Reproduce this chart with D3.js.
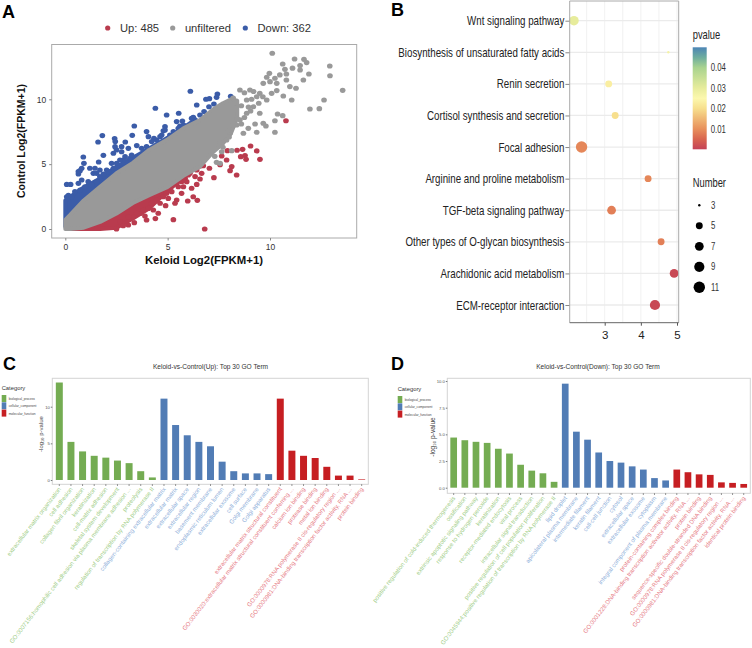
<!DOCTYPE html>
<html><head><meta charset="utf-8">
<script src="https://cdn.jsdelivr.net/npm/d3@7"></script>
<style>html,body{margin:0;background:#fff}svg{display:block}text{font-family:"Liberation Sans",sans-serif}</style>
</head><body><svg id="c" width="752" height="648"></svg>
<script>
// ---------- Panel A data ----------
const upPoints=[[10.78,8.35],[9.05,6.4],[9.35,6.02],[8.66,6.14],[8.39,6.07],[7.92,6.04],[7.64,5.63],[7.88,5.32],[8.57,5.58],[8.78,5.66],[8.83,5.37],[9.51,5.37],[8.13,4.81],[8.05,4.5],[8.37,4.16],[7.56,4.96],[7.04,4.68],[7.26,3.96],[6.74,4.88],[6.58,4.86],[6.42,4.55],[6.17,4.63],[6.66,4.29],[6.58,3.86],[6.34,4.04],[6.09,4.29],[5.68,4.09],[5.28,3.78],[5.44,3.52],[5.93,3.65],[6.42,3.44],[5.77,3.26],[6.17,3.14],[5.68,2.75],[6.25,2.49],[6.45,2.21],[5.98,2.16],[5.44,2.24],[5.36,1.98],[4.9,1.8],[5.03,2.36],[4.54,1.21],[4.4,.8],[5.28,.72],[6.81,0],[3.97,.69],[3.89,1],[3.37,.49],[3.08,.31],[2.83,.26],[2.5,0],[4.3,1.47],[4.63,1.98],[5.11,3],[3.32,.95],[3.65,1.2],[2.67,.57],[3.08,.95],[3.49,1.21],[3.81,1.47],[4.06,1.59],[4.22,1.98],[4.46,2.24],[4.79,2.49],[4.95,2.75],[5.2,2.88],[5.52,3.26],[5.68,3.65],[5.85,3.91],[6.01,4.16]];
const downPoints=[[6.11,10.62],[7.43,10.41],[8.08,10.23],[7.39,10.15],[7.04,10.05],[6.87,10],[6.42,9.56],[7.26,9.64],[7.02,9.43],[4.4,9.31],[5.54,8.92],[4.95,8.79],[6.78,9.05],[6.58,8.79],[6.25,8.61],[6.34,8.41],[5.44,8.28],[5.72,8.33],[5.86,7.94],[3.37,7.94],[4.87,7.89],[5.6,7.94],[5.68,7.63],[4.79,7.58],[3.97,7.51],[1.81,7.2],[3.27,7.22],[2.41,6.97],[1.6,6.71],[2.44,6.74],[2.93,6.71],[4.06,7.12],[.88,5.55],[1.86,5.68],[.91,5.06],[1.63,5.17],[1.2,4.68],[.72,4.5],[.64,4.24],[.07,3.44],[.26,3.44],[.64,3.52],[.8,3.78],[2.35,5.84],[2.5,6.1],[2.75,5.96],[3.08,6.22],[3.49,6.43],[3.73,6.22],[4.46,6.86],[4.63,7.12],[5.11,7.25],[1.69,4.55],[1.37,4.29],[2.02,4.55],[2.26,5.06],[2.83,5.32],[3.16,5.45],[.07,2.49],[.15,2.6],[.31,2.49],[.47,2.88],[.72,3.01],[.96,3.26],[1.12,3.65],[1.29,3.39],[1.53,3.65],[1.69,4.04],[1.86,4.24],[2.1,4.42],[2.35,4.68],[2.51,5.06],[2.67,5.32],[2.92,5.58],[3.24,5.71],[3.4,5.06],[3.65,5.58],[3.97,6.35],[4.22,6.74],[4.33,6.99],[4.71,7.25],[4.87,7.63],[5.28,7.51],[5.52,7.76],[5.77,8.02],[6.17,8.53],[.64,4.42],[.8,4.68],[1.53,4.29],[1.45,4.68],[2.43,6.35],[2.75,6.35]];
const greyPoints=[[10.11,13.55],[11.2,13.11],[11.66,13.08],[11.79,12.83],[10.62,12.72],[12.92,12.57],[11.47,12.6],[11.1,12.4],[11.47,12.26],[10.73,12.31],[9.97,12],[11.9,11.95],[12.93,11.82],[10.8,11.95],[10.48,11.88],[10.24,11.62],[9.84,11.7],[11.63,11.49],[9.67,11.23],[10,11.36],[10.33,11.23],[10.8,11.49],[10.97,10.98],[11.27,10.85],[13.55,10.69],[10.08,10.46],[10.33,10.67],[10.65,10.26],[11.06,9.95],[12.64,9.95],[11.95,9.25],[12.41,9.28],[10.37,8.87],[10.62,8.74],[10.24,8.35],[9.8,7.94],[10.24,7.46],[9.67,8.15],[9.27,8.1],[8.94,7.76],[8.7,7.38],[9.35,7.46],[8.53,10.72],[9.02,10.72],[9.5,10.46],[9.84,9.95],[9.35,10.2],[8.86,9.95],[9.19,9.43],[9.5,8.92],[8.53,8.41],[8.86,8.92],[8.05,7.38],[8.37,8.02],[7.56,6.6],[7.88,6.86],[8.13,6.04],[7.64,5.96],[7.39,5.14],[7.56,5.06],[8.2,10.1],[8.75,10.5],[9.2,10.6],[9.65,10.2],[9.1,10],[9.45,9.7],[8.95,9.4],[8.6,9.5],[8.3,9.3],[9.05,9.1],[8.75,8.6],[8.4,8.5],[8.6,8.1],[8.2,8],[7.95,7.6],[8,7.1],[7.7,6.3],[7.3,5.6]];
// dense cores, as envelopes: x, lower y, upper y
const greyBandX=[0,.25,.9,1.7,2.5,3.3,4.1,4.95,5.77,6.58,7.2,7.7,8.1,8.4];
const greyBandLow=[0,0,.1,.55,1.2,2,2.6,3.2,4.1,4.8,5.9,6.6,7.4,8.6];
const greyBandHigh=[.7,1.1,2.2,3.26,4.3,5.1,6.1,6.86,7.76,8.4,9.2,9.7,10,9.9];
const downBandX=[0,.25,.9,1.7,2.5,3.3,4.1,4.95,5.77,6.3];
const downBandLow=[.2,.9,2,3.1,4.1,4.9,5.9,6.7,7.6,8.2];
const downBandHigh=[2.2,2.5,3.2,3.9,4.8,5.5,6.2,7,7.8,8.4];
const upBandX=[.2,.9,1.7,2.5,3.3,4.1,4.7,5.2,5.7];
const upBandLow=[0,0,0,.1,.8,1.6,2.5,3.2,3.9];
const upBandHigh=[.05,.2,.65,1.3,2.1,2.7,3.1,3.7,4.2];
const volcanoXTicks=[0,5,10], volcanoYTicks=[0,5,10];
const volcanoLegend=["Up: 485","unfiltered","Down: 362"];

// ---------- Panel B data ----------
const pathways=["Wnt signaling pathway","Biosynthesis of unsaturated fatty acids","Renin secretion","Cortisol synthesis and secretion","Focal adhesion","Arginine and proline metabolism","TGF-beta signaling pathway","Other types of O-glycan biosynthesis","Arachidonic acid metabolism","ECM-receptor interaction"];
const enrichment=[2.15,4.76,3.11,3.29,2.36,4.2,3.19,4.56,4.92,4.39];
const pvalues=[.03,.027,.023,.02,.009,.009,.008,.008,.001,.001];
const numbers=[8,3,5,5,11,5,7,5,7,9];
const numberLegend=[3,5,7,9,11];
const pvalueTicks=[.01,.02,.03,.04];
const pvalueStops=[0,.005,.01,.02,.025,.03,.04,.045,.05];
const pvalueColors=["#c44257","#d9654f","#e8905c","#f7df8d","#fcf8ae","#e7ec9c","#a9d38f","#6fae9e","#4c85b5"];

// ---------- Panels C, D data ----------
const upTerms=["extracellular matrix organization","cell adhesion","collagen fibril organization","keratinization","cell-matrix adhesion","skeletal system development","GO:0007156:homophilic cell adhesion via plasma membrane adhesion ...","proteolysis","regulation of transcription by RNA polymerase II","collagen-containing extracellular matrix","extracellular matrix","extracellular space","extracellular region","basement membrane","endoplasmic reticulum lumen","extracellular exosome","cell surface","Golgi membrane","Golgi apparatus","extracellular matrix structural constituent","GO:0030020:extracellular matrix structural constituent conferring ...","calcium ion binding","protease binding","metal ion binding","GO:0000978:RNA polymerase II cis-regulatory region ...","GO:0000981:DNA-binding transcription factor activity, RNA ...","protein binding"];
const upValues=[13.3,5.2,3.9,3.3,3.05,2.65,2.3,1.2,.35,11.1,7.5,6.1,5.2,4.6,2.5,1.2,.9,.9,.8,11.1,4,3.3,3,1.8,.6,.6,.08];
const upCats=[9,10,8];
const downTerms=["positive regulation of cold-induced thermogenesis","ossification","extrinsic apoptotic signaling pathway","response to hydrogen peroxide","keratinization","receptor-mediated endocytosis","viral process","intracellular signal transduction","positive regulation of cell population proliferation","GO:0045944:positive regulation of transcription by RNA polymerase II","lipid droplet","apicolateral plasma membrane","intermediate filament","keratin filament","cell-cell junction","cytosol","extracellular space","extracellular exosome","cytoplasm","integral component of plasma membrane","protein-containing complex binding","GO:0001228:DNA-binding transcription activator activity, RNA ...","protein binding","sequence-specific double-stranded DNA binding","GO:0000978:RNA polymerase II cis-regulatory region ...","GO:0000981:DNA-binding transcription factor activity, RNA ...","identical protein binding"];
const downValues=[4.7,4.45,4.3,4.2,3.65,3.2,2.15,1.6,1.35,.55,9.75,5.25,4.5,3.3,2.5,2.35,2,1.7,.9,.68,1.7,1.45,1.25,1.2,.5,.45,.35];
const downCats=[10,10,7];
const categories=["biological_process","cellular_component","molecular_function"];
const barColors=["#74ac52","#517cb5","#c61e22"];
const labelColors=["#a2ce88","#8fb0da","#e67a84"];

const svg=d3.select("#c");
const panelLetter=(t,x,y)=>svg.append("text").attr("x",x).attr("y",y).attr("font-size",18).attr("font-weight","bold").attr("fill","#000").text(t);
panelLetter("A",2,18);panelLetter("B",391,16);panelLetter("C",3,370);panelLetter("D",391,370);

// ========== A ==========
(function(){
 const x=d3.scaleLinear().domain([0,10]).range([65.3,270]);
 const y=d3.scaleLinear().domain([0,10]).range([229,99.3]);
 const g=svg.append("g");
 const colors={up:"#b93b4e",grey:"#999999",down:"#3b5ca8"};
 const band=(X,L,H,c)=>{
  const a=d3.area().x(d=>x(X[d])).y0(d=>y(L[d])).y1(d=>y(H[d])).curve(d3.curveLinear);
  g.append("path").attr("d",a(d3.range(X.length))).attr("fill",c).attr("stroke",c).attr("stroke-width",4).attr("stroke-linejoin","round");
 };
 const dots=(P,c)=>g.selectAll(null).data(P).join("ellipse").attr("cx",d=>x(d[0])).attr("cy",d=>y(d[1])).attr("rx",2.85).attr("ry",2.55).attr("fill",c);
 band(downBandX,downBandLow,downBandHigh,colors.down);dots(downPoints,colors.down);
 band(upBandX,upBandLow,upBandHigh,colors.up);dots(upPoints,colors.up);
 band(greyBandX,greyBandLow,greyBandHigh,colors.grey);dots(greyPoints,colors.grey);
 svg.append("rect").attr("x",51.7).attr("y",44.5).attr("width",305).attr("height",193.5).attr("fill","none").attr("stroke","#aaa").attr("stroke-width",1);
 const ax=g=>{g.select(".domain").remove();g.selectAll("line").attr("stroke","#888");g.selectAll("text").attr("fill","#333").attr("font-size",8.5);};
 svg.append("g").attr("transform","translate(0,238)").call(d3.axisBottom(x).tickValues(volcanoXTicks).tickSize(2.5).tickPadding(3)).call(ax);
 svg.append("g").attr("transform","translate(51.7,0)").call(d3.axisLeft(y).tickValues(volcanoYTicks).tickSize(2.5).tickPadding(3)).call(ax);
 svg.append("text").attr("x",204).attr("y",264).attr("text-anchor","middle").attr("font-size",11.4).attr("font-weight","bold").attr("fill","#111").text("Keloid Log2(FPKM+1)");
 svg.append("text").attr("transform","translate(25,141) rotate(-90)").attr("text-anchor","middle").attr("font-size",10.5).attr("font-weight","bold").attr("fill","#111").text("Control Log2(FPKM+1)");
 const lc=[colors.up,colors.grey,colors.down],lx=[107.7,172.7,245.3];
 volcanoLegend.forEach((t,i)=>{
  svg.append("circle").attr("cx",lx[i]).attr("cy",28).attr("r",2.6).attr("fill",lc[i]);
  svg.append("text").attr("x",lx[i]+12.2).attr("y",32).attr("font-size",11.2).attr("fill","#333").text(t);
 });
})();

// ========== B ==========
(function(){
 const sx=.78; // the reference's text is horizontally squeezed
 const squeeze=(sel)=>sel.each(function(){const t=d3.select(this),px=+t.attr("x")||0,py=+t.attr("y")||0;t.attr("x",0).attr("y",0).attr("transform",`translate(${px},${py}) scale(${sx},1)`);});
 const label=(txt,px,py,fs,fill)=>svg.append("text").attr("x",px).attr("y",py).attr("font-size",fs).attr("fill",fill).text(txt).call(squeeze);
 const x=d3.scaleLinear().domain([3,5]).range([604.7,677]);
 const y=d3.scalePoint().domain(pathways).range([20.7,305]);
 const L=569.7,R=678.7,T=1,B=322.7;
 const size=d3.scalePow().exponent(.5).domain([0,8]).range([1.2,5.7]);
 const color=d3.scaleLinear().domain(pvalueStops).range(pvalueColors);
 const g=svg.append("g");
 [2.5,3,3.5,4,4.5,5].forEach(v=>g.append("line").attr("x1",x(v)).attr("x2",x(v)).attr("y1",T).attr("y2",B).attr("stroke","#eeeeee").attr("stroke-width",.8));
 pathways.forEach(p=>g.append("line").attr("x1",L).attr("x2",R).attr("y1",y(p)).attr("y2",y(p)).attr("stroke","#ebebeb").attr("stroke-width",1.3));
 g.selectAll(null).data(pathways).join("circle").attr("cx",(d,i)=>x(enrichment[i])).attr("cy",d=>y(d)).attr("r",(d,i)=>size(numbers[i]-3)).attr("fill",(d,i)=>color(pvalues[i]));
 svg.append("path").attr("d",`M${L},${B}V${T}H${R}V${B}`).attr("fill","none").attr("stroke","#aaa").attr("stroke-width",1);
 svg.append("g").attr("transform",`translate(${L-.3},0)`).call(d3.axisLeft(y).tickSize(4).tickPadding(1)).call(g=>{g.select(".domain").remove();g.selectAll("line").attr("stroke","#888");g.selectAll("text").attr("font-size",12.5).attr("fill","#222").call(squeeze);});
 svg.append("g").attr("transform",`translate(0,${B})`).call(d3.axisBottom(x).tickValues([3,4,5]).tickFormat(d3.format("d")).tickSize(3).tickPadding(5)).call(g=>{g.select(".domain").attr("d",`M${L},0H${R}`).attr("stroke","#666");g.selectAll("line").attr("stroke","#555");g.selectAll("text").attr("font-size",11.5).attr("fill","#222");});
 // colour bar
 const cb=d3.scaleLinear().domain([0,.05]).range([149.3,47.3]);
 const grad=svg.append("defs").append("linearGradient").attr("id","pv").attr("x1",0).attr("x2",0).attr("y1",1).attr("y2",0);
 pvalueStops.forEach((s,i)=>grad.append("stop").attr("offset",s/.05).attr("stop-color",pvalueColors[i]));
 svg.append("rect").attr("x",692.7).attr("y",47.3).attr("width",14).attr("height",102).attr("fill","url(#pv)");
 label("pvalue",692.7,39,12,"#222");
 svg.append("g").attr("transform","translate(706.7,0)").call(d3.axisRight(cb).tickValues(pvalueTicks).tickFormat(d3.format(".2f")).tickSize(0).tickPadding(4)).call(g=>{g.select(".domain").remove();g.selectAll("text").attr("font-size",10).attr("fill","#333").call(squeeze);});
 label("Number",692.7,187,12,"#222");
 const ly=d3.scalePoint().domain(numberLegend).range([205.3,287.3]);
 numberLegend.forEach(n=>{
  svg.append("circle").attr("cx",699.3).attr("cy",ly(n)).attr("r",size(n-3)).attr("fill","#000");
  label(n,711,ly(n)+3.5,10,"#333");
 });
})();

// ========== C, D ==========
function barPanel(o){
 const font='"DejaVu Sans",sans-serif';
 const cond='"DejaVu Sans Condensed","DejaVu Sans",sans-serif';
 const catOf=i=>i<o.cats[0]?0:(i<o.cats[0]+o.cats[1]?1:2);
 const x=d3.scaleBand().domain(o.terms).range(o.xr).paddingInner(.4).paddingOuter(.2);
 const y=d3.scaleLinear().domain(o.yd).range(o.yr);
 svg.selectAll(null).data(o.terms).join("rect").attr("x",d=>x(d)).attr("width",x.bandwidth())
  .attr("y",(d,i)=>y(o.values[i])).attr("height",(d,i)=>y(0)-y(o.values[i])).attr("fill",(d,i)=>barColors[catOf(i)]);
 svg.append("rect").attr("x",o.frame[0]).attr("y",o.frame[1]).attr("width",o.frame[2]-o.frame[0]).attr("height",o.frame[3]-o.frame[1]).attr("fill","none").attr("stroke","#d4d4d4").attr("stroke-width",1);
 svg.append("g").attr("transform",`translate(${o.frame[0]},0)`).call(d3.axisLeft(y).tickValues(o.yt).tickFormat(o.yf).tickSize(1.5).tickPadding(1)).call(g=>{g.select(".domain").remove();g.selectAll("line").attr("stroke","#777");g.selectAll("text").attr("font-family",font).attr("font-size",4.2).attr("fill","#555");});
 svg.append("g").attr("transform",`translate(0,${o.frame[3]})`).call(d3.axisBottom(x).tickSize(1.5).tickPadding(0)).call(g=>{g.select(".domain").remove();g.selectAll("line").attr("stroke","#777");
  g.selectAll("text").attr("font-family",font).attr("font-size",6).attr("text-anchor","end").attr("dy",0).attr("y",0).attr("transform","translate(2,5) rotate(-52.5)").attr("fill",(d,i)=>labelColors[catOf(i)]);});
 svg.append("text").attr("x",o.title[0]).attr("y",o.title[1]).attr("text-anchor","middle").attr("font-family",cond).attr("font-size",6.6).attr("fill","#333").text(o.titleText);
 svg.append("text").attr("transform",`translate(${o.ylab[0]},${o.ylab[1]}) rotate(-90)`).attr("text-anchor","middle").attr("font-family",font).attr("font-size",o.ylab[2]).attr("fill","#444").text("-log\u2081\u2080 p-value");
 svg.append("text").attr("x",o.leg[0]).attr("y",o.leg[1]).attr("font-family",cond).attr("font-size",5.8).attr("fill","#333").text("Category");
 categories.forEach((c,i)=>{
  svg.append("rect").attr("x",o.leg[0]).attr("y",o.leg[1]+5+i*7.3).attr("width",4.6).attr("height",7).attr("fill",barColors[i]);
  svg.append("text").attr("x",o.leg[0]+7).attr("y",o.leg[1]+10+i*7.3).attr("font-family",font).attr("font-size",3.2).attr("fill","#444").text(c);
 });
}
barPanel({terms:upTerms,values:upValues,cats:upCats,xr:[53.5,367.5],yd:[0,10],yr:[480,406.7],frame:[52.3,378.3,368.3,484.3],yt:[0,5,10],yf:d3.format("d"),title:[210.5,369],titleText:"Keloid-vs-Control(Up): Top 30 GO Term",ylab:[43,434,6],leg:[1.7,390]});
barPanel({terms:downTerms,values:downValues,cats:downCats,xr:[448.1,749.3],yd:[0,10],yr:[487.7,381],frame:[447.3,378.3,750.3,493.3],yt:[0,2.5,5,7.5,10],yf:d3.format(".1f"),title:[598,369],titleText:"Keloid-vs-Control(Down): Top 30 GO Term",ylab:[435,437,6.6],leg:[397.7,391]});
</script></body></html>
